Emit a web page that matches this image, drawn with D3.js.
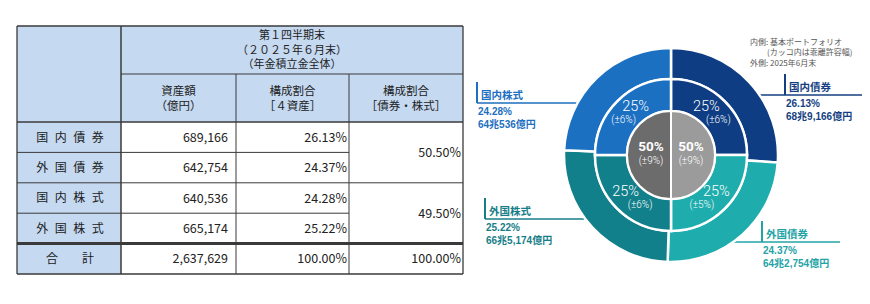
<!DOCTYPE html>
<html>
<head>
<meta charset="utf-8">
<script src="https://cdn.jsdelivr.net/npm/d3@7"></script>
<style>
    html, body { margin: 0; padding: 0; background: #fff; }
    svg { display: block; }
</style>
</head>
<body>
<svg id="chart" width="870" height="304"></svg>
<script>
// --- data (table) ---
var assets = ['国内債券', '外国債券', '国内株式', '外国株式'];
var amounts = [689166, 642754, 640536, 665174];   // 億円
var shares = [26.13, 24.37, 24.28, 25.22];         // %
var groups = ['債券', '株式'];
var groupShares = [50.50, 49.50];
var totalAmount = 2637629;
var totalShare = 100.00;

// --- data (basic portfolio, inner rings) ---
var ringOrder = ['国内債券', '外国債券', '外国株式', '国内株式'];
var policyTargets = [25, 25, 25, 25];
var policyBands = [6, 5, 6, 6];
var groupOrder = ['債券', '株式'];
var groupTargets = [50, 50];
var groupBands = [9, 9];

var headerTitle = ['第１四半期末', '（２０２５年６月末）', '（年金積立金全体）'];
var colHeads = [['資産額', '（億円）'], ['構成割合', '［４資産］'], ['構成割合', '［債券・株式］']];
var noteLines = ['内側: 基本ポートフォリオ', '(カッコ内は乖離許容幅)', '外側: 2025年6月末'];

var colors = {
    '国内債券': '#0e3d84',
    '外国債券': '#1eacac',
    '外国株式': '#12808b',
    '国内株式': '#1b70c2',
    '債券': '#9b9b9b',
    '株式': '#6c6c6c'
};
var textColors = {
    '国内債券': '#153f82',
    '外国債券': '#23a3a6',
    '外国株式': '#177e88',
    '国内株式': '#1d6fbf'
};

var svg = d3.select('#chart');
var jp = '"Noto Sans CJK JP", sans-serif';

// ================= table =================
var cols = [17, 121, 236, 349, 463];
var headTop = 26, headMid = 74, headBot = 122, tableBot = 274;
var rowNames = assets.concat(['合計']);
var y = d3.scaleBand().domain(rowNames).range([headBot, tableBot]);
var bw = y.bandwidth();
var headBlue = '#c5d9f1';
var lineCol = '#3a3a3a';

var table = svg.append('g');

table.append('rect')
    .attr('x', cols[0]).attr('y', headTop)
    .attr('width', cols[4] - cols[0]).attr('height', headBot - headTop)
    .attr('fill', headBlue);
table.append('rect')
    .attr('x', cols[0]).attr('y', headTop)
    .attr('width', cols[1] - cols[0]).attr('height', tableBot - headTop)
    .attr('fill', headBlue);

function hline(yy, x1, x2, w) {
    table.append('line').attr('x1', x1).attr('x2', x2).attr('y1', yy).attr('y2', yy)
        .attr('stroke', lineCol).attr('stroke-width', w || 1);
}
function vline(xx, y1, y2, w) {
    table.append('line').attr('x1', xx).attr('x2', xx).attr('y1', y1).attr('y2', y2)
        .attr('stroke', lineCol).attr('stroke-width', w || 1);
}

hline(headTop, cols[0], cols[4], 1.3);
hline(headMid, cols[1], cols[4]);
hline(headBot, cols[0], cols[4], 1.3);
hline(y(assets[1]), cols[0], cols[3]);
hline(y(assets[2]), cols[0], cols[4]);
hline(y(assets[3]), cols[0], cols[3]);
hline(y('合計'), cols[0], cols[4], 3);
hline(tableBot, cols[0], cols[4], 1.3);
vline(cols[0], headTop, tableBot, 1.3);
vline(cols[1], headTop, tableBot, 1.5);
vline(cols[2], headMid, tableBot);
vline(cols[3], headMid, tableBot);
vline(cols[4], headTop, tableBot, 1.3);

// header texts
var titleX = (cols[1] + cols[4]) / 2;
table.selectAll('text.title')
    .data(headerTitle)
    .enter().append('text')
    .attr('x', titleX)
    .attr('y', function (d, i) { return (headTop + headMid) / 2 + (i - 1) * 14.5; })
    .attr('dy', '0.36em')
    .attr('text-anchor', 'middle')
    .attr('font-family', jp).attr('font-size', 11).attr('fill', '#222')
    .text(function (d) { return d; });

colHeads.forEach(function (lines, c) {
    table.selectAll(null)
        .data(lines)
        .enter().append('text')
        .attr('x', (cols[c + 1] + cols[c + 2]) / 2)
        .attr('y', function (d, i) { return (headMid + headBot) / 2 + (i - 0.5) * 15; })
        .attr('dy', '0.36em')
        .attr('text-anchor', 'middle')
        .attr('font-family', jp).attr('font-size', 11.5).attr('fill', '#222')
        .text(function (d) { return d; });
});

// body rows
var fmtInt = d3.format(',');
var fmtPct = function (v) { return v.toFixed(2) + '%'; };
var bodyRows = assets.map(function (a, i) {
    return { name: a, amount: amounts[i], share: shares[i] };
});
bodyRows.push({ name: '合計', amount: totalAmount, share: totalShare });

var rows = table.selectAll('g.row')
    .data(bodyRows)
    .enter().append('g')
    .attr('transform', function (d) { return 'translate(0,' + (y(d.name) + bw / 2) + ')'; });

rows.append('text')
    .attr('x', (cols[0] + cols[1]) / 2 + (1))
    .attr('dy', '0.36em')
    .attr('text-anchor', 'middle')
    .attr('font-family', jp).attr('font-size', 12).attr('fill', '#222')
    .attr('letter-spacing', function (d) { return d.name === '合計' ? 0 : 6.5; })
    .attr('dx', function (d) { return d.name === '合計' ? 0 : 3.25; })
    .text(function (d) { return d.name === '合計' ? '合　　計' : d.name; });

rows.append('text')
    .attr('x', cols[2] - 8)
    .attr('dy', '0.36em')
    .attr('text-anchor', 'end')
    .attr('font-family', jp).attr('font-size', 12.5).attr('fill', '#222')
    .text(function (d) { return fmtInt(d.amount); });

rows.append('text')
    .attr('x', cols[3] - 2)
    .attr('dy', '0.36em')
    .attr('text-anchor', 'end')
    .attr('font-family', jp).attr('font-size', 12.5).attr('fill', '#222')
    .text(function (d) { return fmtPct(d.share); });

// merged group cells
groups.forEach(function (g, i) {
    var top = y(assets[i * 2]);
    var bot = y(assets[i * 2 + 1]) + bw;
    table.append('text')
        .attr('x', cols[4] - 2)
        .attr('y', (top + bot) / 2)
        .attr('dy', '0.36em')
        .attr('text-anchor', 'end')
        .attr('font-family', jp).attr('font-size', 12.5).attr('fill', '#222')
        .text(fmtPct(groupShares[i]));
});
table.append('text')
    .attr('x', cols[4] - 2)
    .attr('y', y('合計') + bw / 2)
    .attr('dy', '0.36em')
    .attr('text-anchor', 'end')
    .attr('font-family', jp).attr('font-size', 12.5).attr('fill', '#222')
    .text(fmtPct(totalShare));

// ================= donut =================
var cx = 671, cy = 155;
var rIn = 44, rMid = 76, rOut = 107;

var outerData = ringOrder.map(function (a) {
    return { key: a, v: shares[assets.indexOf(a)] };
});
var midData = ringOrder.map(function (a, i) {
    return { key: a, v: policyTargets[i], band: policyBands[i] };
});
var innerData = groupOrder.map(function (g, i) {
    return { key: g, v: groupTargets[i], band: groupBands[i] };
});

var pie = d3.pie().sort(null).value(function (d) { return d.v; });
var arcOut = d3.arc().innerRadius(rMid).outerRadius(rOut);
var arcMid = d3.arc().innerRadius(rIn).outerRadius(rMid);
var arcIn = d3.arc().innerRadius(0).outerRadius(rIn);

// callout layout (line y, bar x, far end of line)
var callouts = {
    '国内株式': { ly: 103, bx: 477, end: 477 },
    '国内債券': { ly: 95, bx: 785, end: 862 },
    '外国株式': { ly: 219, bx: 485, end: 485 },
    '外国債券': { ly: 242, bx: 762, end: 840 }
};

var calloutG = svg.append('g');
var donut = svg.append('g').attr('transform', 'translate(' + cx + ',' + cy + ')');

donut.selectAll('path.out')
    .data(pie(outerData))
    .enter().append('path')
    .attr('d', arcOut)
    .attr('fill', function (d) { return colors[d.data.key]; })
    .attr('stroke', '#fff').attr('stroke-width', 2.5);

donut.selectAll('path.mid')
    .data(pie(midData))
    .enter().append('path')
    .attr('d', arcMid)
    .attr('fill', function (d) { return colors[d.data.key]; })
    .attr('stroke', '#fff').attr('stroke-width', 2.5);

donut.selectAll('path.in')
    .data(pie(innerData))
    .enter().append('path')
    .attr('d', arcIn)
    .attr('fill', function (d) { return colors[d.data.key]; })
    .attr('stroke', '#fff').attr('stroke-width', 2);

// middle ring labels
var midLabelArc = d3.arc().innerRadius(60).outerRadius(60);
pie(midData).forEach(function (d) {
    var c = midLabelArc.centroid(d);
    var s = c[0] < 0 ? -1 : 1;
    var top = c[1] < 0;
    donut.append('text')
        .attr('x', c[0] + (top ? -7 * s : 3 * s))
        .attr('y', c[1] - 7)
        .attr('dy', '0.36em')
        .attr('text-anchor', 'middle')
        .attr('font-family', 'Roboto, sans-serif').attr('font-weight', 300)
        .attr('font-size', 14.5).attr('fill', '#fff')
        .text(d.data.v + '%');
    donut.append('text')
        .attr('x', c[0] + (top ? 5 * s : -11.5 * s))
        .attr('y', c[1] + 7)
        .attr('dy', '0.36em')
        .attr('text-anchor', 'middle')
        .attr('font-family', 'Roboto, sans-serif').attr('font-weight', 300)
        .attr('font-size', 10).attr('fill', '#fff')
        .text('(±' + d.data.band + '%)');
});

// inner circle labels
var inLabelArc = d3.arc().innerRadius(20).outerRadius(20);
pie(innerData).forEach(function (d) {
    var c = inLabelArc.centroid(d);
    donut.append('text')
        .attr('x', c[0]).attr('y', -8.5)
        .attr('dy', '0.36em')
        .attr('text-anchor', 'middle')
        .attr('font-family', 'Roboto, sans-serif').attr('font-weight', 700)
        .attr('font-size', 13.5).attr('fill', '#fff')
        .text(d.data.v + '%');
    donut.append('text')
        .attr('x', c[0]).attr('y', 5.5)
        .attr('dy', '0.36em')
        .attr('text-anchor', 'middle')
        .attr('font-family', 'Roboto, sans-serif').attr('font-weight', 300)
        .attr('font-size', 10).attr('fill', '#fff')
        .text('(±' + d.data.band + '%)');
});

// callouts
var fmtOku = function (v) {
    var cho = Math.floor(v / 10000);
    return cho + '兆' + fmtInt(v % 10000) + '億円';
};
pie(outerData).forEach(function (d) {
    var key = d.data.key;
    var co = callouts[key];
    var col = textColors[key];
    var i = assets.indexOf(key);
    var left = arcOut.centroid(d)[0] < 0;
    calloutG.append('line')
        .attr('x1', left ? co.end : cx).attr('x2', left ? cx : co.end)
        .attr('y1', co.ly).attr('y2', co.ly)
        .attr('stroke', col).attr('stroke-width', 1.5);
    calloutG.append('line')
        .attr('x1', co.bx).attr('x2', co.bx)
        .attr('y1', co.ly - 21).attr('y2', co.ly)
        .attr('stroke', col).attr('stroke-width', 2);
    calloutG.append('text')
        .attr('x', co.bx + 4).attr('y', co.ly - 7.5)
        .attr('dy', '0.36em')
        .attr('font-family', jp).attr('font-weight', 700)
        .attr('font-size', 10.5).attr('fill', col)
        .text(key);
    calloutG.append('text')
        .attr('x', co.bx + 1).attr('y', co.ly + 8)
        .attr('dy', '0.36em')
        .attr('font-family', '"Liberation Sans", "Noto Sans CJK JP", sans-serif').attr('font-weight', 700)
        .attr('font-size', 10).attr('fill', col)
        .text(fmtPct(shares[i]));
    calloutG.append('text')
        .attr('x', co.bx + 1).attr('y', co.ly + 21)
        .attr('dy', '0.36em')
        .attr('font-family', '"Liberation Sans", "Noto Sans CJK JP", sans-serif').attr('font-weight', 700)
        .attr('font-size', 10).attr('fill', col)
        .text(fmtOku(amounts[i]));
});

// note
svg.append('g').selectAll('text')
    .data(noteLines)
    .enter().append('text')
    .attr('x', function (d, i) { return i === 1 ? 767 : 750; })
    .attr('y', function (d, i) { return 42 + i * 10.5; })
    .attr('dy', '0.36em')
    .attr('font-family', jp).attr('font-size', 8).attr('fill', '#555')
    .text(function (d) { return d; });
</script>
</body>
</html>
